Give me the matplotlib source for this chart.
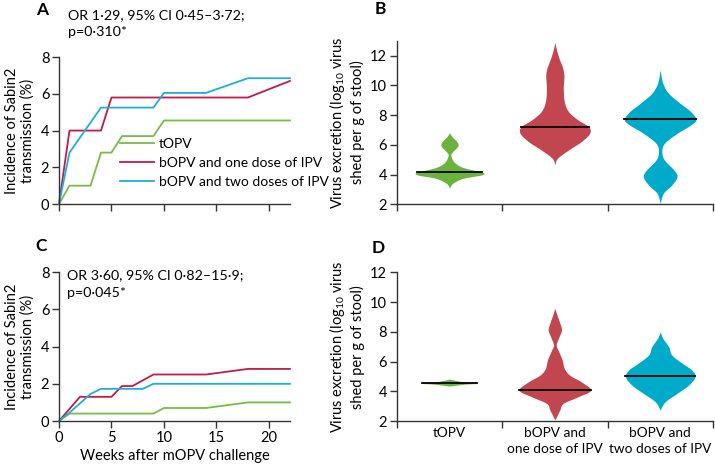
import numpy as np
import matplotlib
matplotlib.use("Agg")
import matplotlib.pyplot as plt

plt.rcParams['font.family'] = ['Lato', 'DejaVu Sans']
plt.rcParams['font.size'] = 10

# ---- data: cumulative incidence curves (weeks, %) ----
WEEKS_A_TOPV = [0, 1, 3, 4, 5, 6, 9, 10, 22]
INC_A_TOPV = [0, 1.0, 1.0, 2.8, 2.8, 3.7, 3.7, 4.55, 4.55]
WEEKS_A_ONE = [0, 1, 4, 5, 18, 22]
INC_A_ONE = [0, 4.0, 4.0, 5.8, 5.8, 6.7]
WEEKS_A_TWO = [0, 1, 4, 9, 10, 14, 18, 22]
INC_A_TWO = [0, 2.8, 5.25, 5.25, 6.05, 6.05, 6.85, 6.85]

WEEKS_C_TOPV = [0, 1, 9, 10, 14, 18, 22]
INC_C_TOPV = [0, 0.4, 0.4, 0.7, 0.7, 1.0, 1.0]
WEEKS_C_ONE = [0, 2, 5, 6, 7, 9, 14, 18, 22]
INC_C_ONE = [0, 1.3, 1.3, 1.88, 1.88, 2.5, 2.5, 2.8, 2.8]
WEEKS_C_TWO = [0, 1, 3, 4, 8, 9, 22]
INC_C_TWO = [0, 0.45, 1.45, 1.73, 1.73, 2.0, 2.0]

GROUPS = ["tOPV", "bOPV and one dose of IPV", "bOPV and two doses of IPV"]
GROUP_TICKS = ["tOPV", "bOPV and\none dose of IPV", "bOPV and\ntwo doses of IPV"]

# ---- data: violin outlines (log10 value, half width) and medians ----
B_TOPV_Y = [3.08, 3.41, 3.75, 3.97, 4.13, 4.31, 4.53, 4.87, 5.32, 5.54, 5.93, 6.22, 6.55, 6.82]
B_TOPV_W = [0, 0.03, 0.13, 0.30, 0.32, 0.22, 0.11, 0.04, 0.013, 0.03, 0.08, 0.07, 0.025, 0]
B_ONE_Y = [4.65, 5.10, 5.66, 6.22, 6.78, 7.23, 7.68, 8.24, 8.91, 9.81, 10.71, 11.27, 11.83, 12.39, 12.9]
B_ONE_W = [0, 0.025, 0.13, 0.25, 0.33, 0.32, 0.22, 0.13, 0.09, 0.08, 0.086, 0.07, 0.04, 0.016, 0]
B_TWO_Y = [2.07, 2.74, 3.30, 3.86, 4.31, 4.98, 5.54, 6.11, 6.78, 7.34, 7.72, 8.24, 8.80, 9.47, 10.15, 11.04]
B_TWO_W = [0, 0.03, 0.11, 0.16, 0.13, 0.04, 0.016, 0.04, 0.16, 0.29, 0.34, 0.29, 0.19, 0.08, 0.025, 0]
B_MEDIANS = [4.17, 7.23, 7.72]

D_TOPV_Y = [4.35, 4.48, 4.53, 4.60, 4.82]
D_TOPV_W = [0, 0.15, 0.26, 0.15, 0]
D_ONE_Y = [2.07, 2.5, 2.79, 3.19, 3.63, 4.08, 4.64, 5.09, 5.54, 6.10, 6.66, 7.11, 7.63, 8.12, 8.57, 9.13, 9.58]
D_ONE_W = [0, 0.03, 0.05, 0.08, 0.22, 0.34, 0.25, 0.14, 0.09, 0.07, 0.038, 0.013, 0.038, 0.063, 0.048, 0.02, 0]
D_TWO_Y = [2.74, 3.30, 3.86, 4.42, 4.98, 5.43, 5.88, 6.44, 7.0, 7.56, 8.0]
D_TWO_W = [0, 0.048, 0.16, 0.27, 0.33, 0.30, 0.21, 0.11, 0.08, 0.025, 0]
D_MEDIANS = [4.53, 4.1, 5.03]

LINE_COLORS = ["#77bc43", "#c5194a", "#1cb0d8"]
VIOLIN_COLORS = ["#6cb33e", "#c2464f", "#00aac9"]
AXIS_COLOR = "#333333"
FS = 10


def smooth_outline(ys, ws, n=16):
    # Catmull-Rom curve through the outline points, only for drawing a rounder shape
    pts = np.column_stack([ys, ws])
    pts = np.vstack([pts[0], pts, pts[-1]])
    out = []
    for i in range(1, len(pts) - 2):
        p0, p1, p2, p3 = pts[i - 1], pts[i], pts[i + 1], pts[i + 2]
        t = np.linspace(0, 1, n, endpoint=False)[:, None]
        seg = 0.5 * ((2 * p1) + (-p0 + p2) * t + (2 * p0 - 5 * p1 + 4 * p2 - p3) * t ** 2
                     + (-p0 + 3 * p1 - 3 * p2 + p3) * t ** 3)
        out.append(seg)
    out.append(pts[-2][None, :])
    out = np.vstack(out)
    return out[:, 0], np.clip(out[:, 1], 0, None)


def style_axes(ax):
    ax.spines['top'].set_visible(False)
    ax.spines['right'].set_visible(False)
    for s in ('left', 'bottom'):
        ax.spines[s].set_color(AXIS_COLOR)
        ax.spines[s].set_linewidth(1.0)
    ax.tick_params(direction='out', length=5, width=1.0, color=AXIS_COLOR, labelsize=10.5, pad=2)


def incidence_panel(ax, curves, xlabels):
    for (x, y), c in zip(curves, LINE_COLORS):
        ax.plot(x, y, color=c, lw=1.3, clip_on=False)
    ax.set_xlim(0, 22)
    ax.set_ylim(0, 8)
    ax.set_xticks([0, 5, 10, 15, 20])
    ax.set_yticks([0, 2, 4, 6, 8])
    if not xlabels:
        ax.set_xticklabels([])
    style_axes(ax)
    ax.set_ylabel("Incidence of Sabin2\ntransmission (%)", fontsize=10.5, labelpad=4, linespacing=1.2)


def violin_panel(ax, profiles, medians, top, xlabels):
    for i, ((ys, ws), col) in enumerate(zip(profiles, VIOLIN_COLORS)):
        sy, sw = smooth_outline(np.array(ys, float), np.array(ws, float))
        xc = i + 0.5
        ax.fill_betweenx(sy, xc - sw, xc + sw, color=col, lw=0)
        hw = np.interp(medians[i], sy, sw)
        ax.plot([xc - hw, xc + hw], [medians[i], medians[i]], color='black', lw=1.3)
    ax.set_xlim(0, 3)
    ax.set_ylim(2, top)
    ax.set_yticks([2, 4, 6, 8, 10, 12])
    ax.set_xticks([0, 1, 2, 3])
    ax.set_xticklabels([])
    ax.set_xticks([0.5, 1.5, 2.5], minor=True)
    if xlabels:
        ax.set_xticklabels(GROUP_TICKS, minor=True, fontsize=9.8, linespacing=1.4)
    ax.tick_params(axis='x', which='minor', length=0, pad=4)
    style_axes(ax)
    ax.set_ylabel("Virus excretion (log$_{\\mathregular{10}}$ virus\nshed per g of stool)",
                  fontsize=10.5, labelpad=4, linespacing=1.2)


def main():
    fig = plt.figure(figsize=(7.15, 4.68), dpi=100)
    ax_a = fig.add_axes([0.0825, 0.564, 0.323, 0.314])
    ax_c = fig.add_axes([0.0825, 0.1004, 0.323, 0.318])
    ax_b = fig.add_axes([0.555, 0.5635, 0.442, 0.349])
    ax_d = fig.add_axes([0.555, 0.1004, 0.442, 0.3178])

    incidence_panel(ax_a, [(WEEKS_A_TOPV, INC_A_TOPV), (WEEKS_A_ONE, INC_A_ONE),
                           (WEEKS_A_TWO, INC_A_TWO)], False)
    fig.text(68 / 715, 1 - 9 / 468, "OR 1·29, 95% CI 0·45–3·72;\np=0·310*", fontsize=10.3,
             va='top', ha='left', linespacing=1.55)
    incidence_panel(ax_c, [(WEEKS_C_TOPV, INC_C_TOPV), (WEEKS_C_ONE, INC_C_ONE),
                           (WEEKS_C_TWO, INC_C_TWO)], True)
    ax_c.text(0.035, 1.02, "OR 3·60, 95% CI 0·82–15·9;\np=0·045*", transform=ax_c.transAxes,
              fontsize=10.3, va='top', ha='left', linespacing=1.55)
    ax_c.set_xlabel("Weeks after mOPV challenge", fontsize=10.5, labelpad=3)

    handles = ax_a.get_lines()
    ax_a.legend(handles, GROUPS, loc='upper left', bbox_to_anchor=(0.265, 0.45), frameon=False,
                fontsize=FS, handlelength=2.4, handletextpad=0.4, labelspacing=0.5,
                borderpad=0, borderaxespad=0)

    violin_panel(ax_b, [(B_TOPV_Y, B_TOPV_W), (B_ONE_Y, B_ONE_W), (B_TWO_Y, B_TWO_W)],
                 B_MEDIANS, 13, False)
    violin_panel(ax_d, [(D_TOPV_Y, D_TOPV_W), (D_ONE_Y, D_ONE_W), (D_TWO_Y, D_TWO_W)],
                 D_MEDIANS, 12, True)

    for lab, x, y in [("A", 36, 2), ("C", 35, 238), ("B", 375, 1), ("D", 372, 240)]:
        fig.text(x / 715, 1 - y / 468, lab, fontsize=12.5, fontweight='bold', va='top', ha='left')

    fig.savefig("out.png", dpi=100)


if __name__ == "__main__":
    main()
